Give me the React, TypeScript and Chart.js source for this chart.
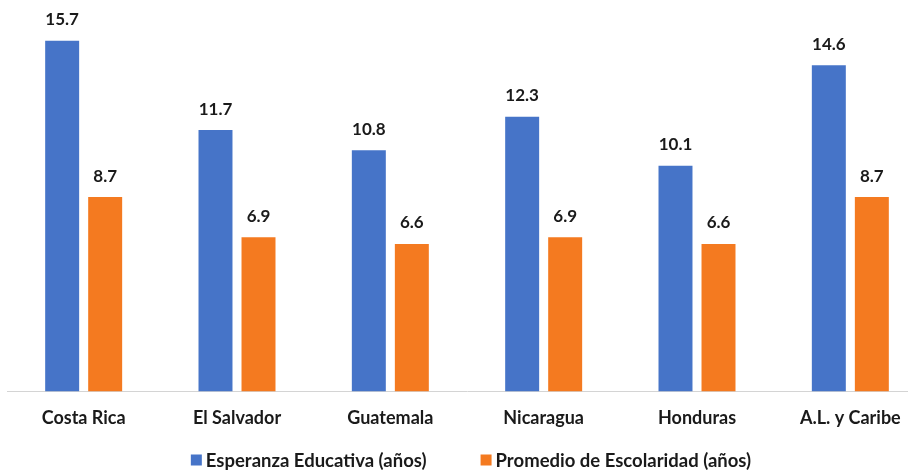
import { useEffect, useRef } from "react";
import { Chart, registerables } from "chart.js";
Chart.register(...registerables);

const categories = ["Costa Rica", "El Salvador", "Guatemala", "Nicaragua", "Honduras", "A.L. y Caribe"];
const esperanza = [15.7, 11.7, 10.8, 12.3, 10.1, 14.6];
const promedio = [8.7, 6.9, 6.6, 6.9, 6.6, 8.7];
const seriesNames = ["Esperanza Educativa (años)", "Promedio de Escolaridad (años)"];
const seriesColors = ["#4674C8", "#F47A20"];

const FONT = "Lato, 'Open Sans', sans-serif";

const valueLabels = {
  id: "valueLabels",
  afterDatasetsDraw(chart: any) {
    const ctx = chart.ctx;
    ctx.save();
    ctx.font = `bold 17px ${FONT}`;
    ctx.fillStyle = "#1a1a1a";
    ctx.textAlign = "center";
    ctx.textBaseline = "middle";
    chart.data.datasets.forEach((ds: any, di: number) => {
      const meta = chart.getDatasetMeta(di);
      meta.data.forEach((el: any, i: number) => {
        ctx.fillText(ds.data[i].toFixed(1), el.x, el.y - 21);
      });
    });
    ctx.restore();
  },
};

const bottomLegend = {
  id: "bottomLegend",
  afterDraw(chart: any) {
    const ctx = chart.ctx;
    ctx.save();
    ctx.font = `bold 18.5px ${FONT}`;
    ctx.textBaseline = "middle";
    ctx.textAlign = "left";
    const box = 11;
    const gapBoxText = 4;
    const gapItems = 54;
    const ds = chart.data.datasets;
    const widths = ds.map((d: any) => box + gapBoxText + ctx.measureText(d.label).width);
    const total = widths.reduce((a: number, b: number) => a + b, 0) + gapItems * (ds.length - 1);
    const cx = (chart.chartArea.left + chart.chartArea.right) / 2 + 4;
    const y = chart.height - 14;
    let x = cx - total / 2;
    ds.forEach((d: any, i: number) => {
      ctx.fillStyle = d.backgroundColor;
      ctx.fillRect(x, y - box / 2, box, box);
      ctx.fillStyle = "#1a1a1a";
      ctx.fillText(d.label, x + box + gapBoxText, y + 1);
      x += widths[i] + gapItems;
    });
    ctx.restore();
  },
};

export default function App() {
  const ref = useRef<HTMLCanvasElement>(null);
  useEffect(() => {
    document.documentElement.style.overflow = "hidden";
    document.body.style.overflow = "hidden";
    const chart = new Chart(ref.current!, {
      type: "bar",
      data: {
        labels: categories,
        datasets: [
          { label: seriesNames[0], data: esperanza, backgroundColor: seriesColors[0], borderWidth: 0 },
          { label: seriesNames[1], data: promedio, backgroundColor: seriesColors[1], borderWidth: 0 },
        ],
      },
      options: {
        animation: false,
        responsive: true,
        maintainAspectRatio: false,
        layout: { padding: { left: 7, right: 3, top: 34, bottom: 29 } },
        datasets: { bar: { categoryPercentage: 0.561, barPercentage: 0.79 } },
        scales: {
          x: {
            grid: { display: false, drawTicks: false },
            border: { display: true, color: "#d4d4d4", width: 1 },
            ticks: { color: "#1a1a1a", font: { family: FONT, size: 18, weight: "bold" }, padding: 16 },
          },
          y: { display: false, min: 0, max: 16 },
        },
        plugins: {
          legend: { display: false },
          tooltip: { enabled: false },
        },
      },
      plugins: [valueLabels, bottomLegend],
    });
    return () => chart.destroy();
  }, []);
  return (
    <div style={{ position: "fixed", left: 0, top: 0, width: 930, height: 474 }}>
      <canvas ref={ref} />
    </div>
  );
}
